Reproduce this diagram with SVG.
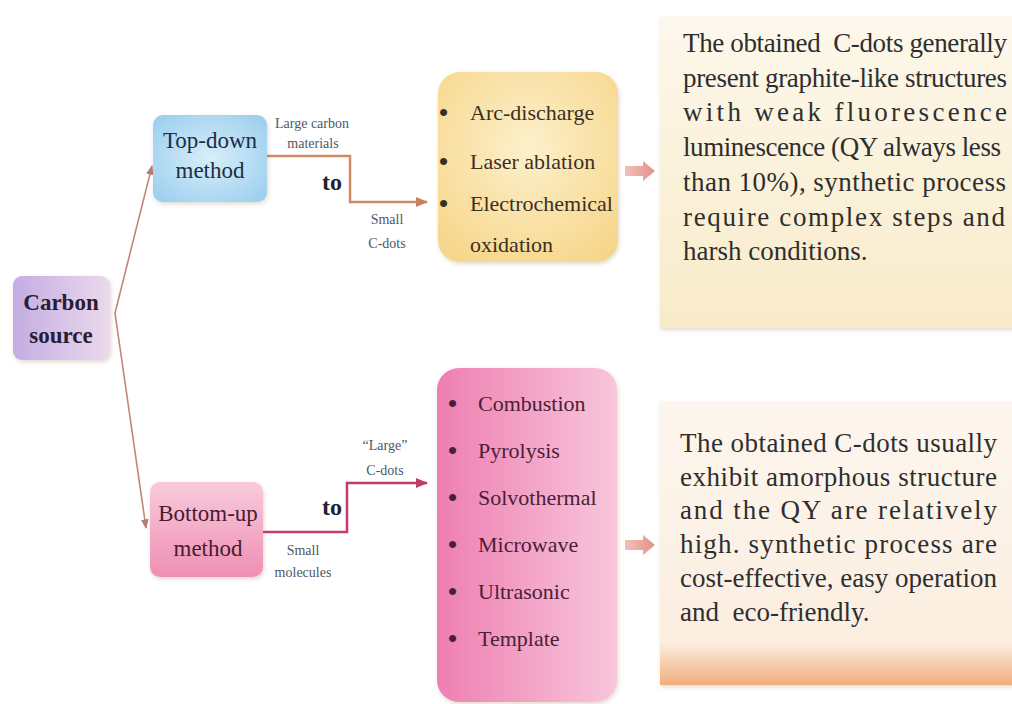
<svg xmlns="http://www.w3.org/2000/svg" width="1012" height="704" viewBox="0 0 1012 704">
<style>
.node{font-family:"Liberation Serif","Times New Roman",serif;text-anchor:middle;font-size:23px}
.lbl{font-family:"Liberation Serif","Times New Roman",serif;text-anchor:middle;font-size:14px;fill:#4a5866}
.to{font-family:"Liberation Serif","Times New Roman",serif;font-weight:bold;font-size:24px;fill:#1e2430}
.item{font-family:"Liberation Serif","Times New Roman",serif;font-size:22px}
.bul{font-family:"Liberation Serif","Times New Roman",serif;font-size:26px;font-weight:bold}
.desc{font-family:"Liberation Serif","Times New Roman",serif;font-size:27px;fill:#2e2e2e}
</style>
<defs>
<linearGradient id="gCarbon" x1="0" y1="0" x2="1" y2="0"><stop offset="0" stop-color="#c3ade3"/><stop offset="1" stop-color="#ecd9ec"/></linearGradient>
<radialGradient id="gTop" cx="0.5" cy="0.5" r="0.7"><stop offset="0" stop-color="#d8eefa"/><stop offset="1" stop-color="#98cdee"/></radialGradient>
<linearGradient id="gBot" x1="0" y1="0" x2="0" y2="1"><stop offset="0" stop-color="#f9cadb"/><stop offset="1" stop-color="#ef8fb4"/></linearGradient>
<radialGradient id="gYel" cx="0.5" cy="0.4" r="0.75"><stop offset="0" stop-color="#fdf0cc"/><stop offset="1" stop-color="#f6d486"/></radialGradient>
<linearGradient id="gPink" x1="0" y1="0" x2="1" y2="0"><stop offset="0" stop-color="#ee7fb1"/><stop offset="1" stop-color="#f8c6db"/></linearGradient>
<linearGradient id="gDesc1" x1="0" y1="0" x2="0" y2="1"><stop offset="0" stop-color="#fdf8ec"/><stop offset="1" stop-color="#f8ebc9"/></linearGradient>
<linearGradient id="gDesc2" x1="0" y1="0" x2="0" y2="1"><stop offset="0" stop-color="#fdf6ee"/><stop offset="0.85" stop-color="#fbeee0"/><stop offset="1" stop-color="#f2ad7c"/></linearGradient>
<linearGradient id="gBlk" x1="0" y1="0" x2="1" y2="0"><stop offset="0" stop-color="#f2c0b8"/><stop offset="1" stop-color="#e39088"/></linearGradient>
<filter id="sh" x="-10%" y="-10%" width="120%" height="120%"><feDropShadow dx="1" dy="2" stdDeviation="2" flood-color="#806040" flood-opacity="0.25"/></filter>
<marker id="aOr" viewBox="0 0 10 10" refX="9" refY="5" markerWidth="5" markerHeight="5" orient="auto"><path d="M0,1 L10,5 L0,9 z" fill="#c9825e"/></marker>
<marker id="aMg" viewBox="0 0 10 10" refX="9" refY="5" markerWidth="5" markerHeight="5" orient="auto"><path d="M0,1 L10,5 L0,9 z" fill="#c03a6c"/></marker>
<marker id="aSl" viewBox="0 0 10 10" refX="9" refY="5" markerWidth="6" markerHeight="6" orient="auto-start-reverse"><path d="M0,1 L10,5 L0,9 z" fill="#b87a70"/></marker>
</defs>
<rect width="1012" height="704" fill="#ffffff"/>

<g id="connectors">
<path d="M152,166 L115,313 L146,528" fill="none" stroke="#c08878" stroke-width="1.6" marker-start="url(#aSl)" marker-end="url(#aSl)"/>
<path d="M267,156 H350 V202 H427" fill="none" stroke="#d08a64" stroke-width="2.5" marker-end="url(#aOr)"/>
<path d="M263,532 H347 V483 H427" fill="none" stroke="#c43a6e" stroke-width="2.5" marker-end="url(#aMg)"/>
<polygon points="625,166 643,166 643,161 655,171 643,181 643,176 625,176" fill="url(#gBlk)"/>
<polygon points="625,540 643,540 643,535 655,545 643,555 643,550 625,550" fill="url(#gBlk)"/>
<text class="lbl" x="312" y="128">Large carbon</text>
<text class="lbl" x="313" y="148">materials</text>
<text class="to" x="322" y="190">to</text>
<text class="lbl" x="387" y="224" font-size="15">Small</text>
<text class="lbl" x="387" y="248" font-size="15">C-dots</text>
<text class="lbl" x="385" y="450" font-size="15">“Large”</text>
<text class="lbl" x="385" y="475" font-size="15">C-dots</text>
<text class="to" x="322" y="515">to</text>
<text class="lbl" x="303" y="555">Small</text>
<text class="lbl" x="303" y="577">molecules</text>
</g>

<g id="carbon-source">
<rect x="13" y="276" width="97" height="84" rx="9" fill="url(#gCarbon)" filter="url(#sh)"/>
<text class="node" x="61" y="310" font-weight="bold" fill="#2a1c34">Carbon</text>
<text class="node" x="61" y="343" font-weight="bold" fill="#2a1c34">source</text>
</g>

<g id="top-down">
<rect x="153" y="115" width="114" height="87" rx="10" fill="url(#gTop)" filter="url(#sh)"/>
<text class="node" x="210" y="148" fill="#1c2e44">Top-down</text>
<text class="node" x="210" y="178" fill="#1c2e44">method</text>
</g>

<g id="bottom-up">
<rect x="150" y="482" width="113" height="95" rx="10" fill="url(#gBot)" filter="url(#sh)"/>
<text class="node" x="208" y="521" fill="#4a1a30">Bottom-up</text>
<text class="node" x="208" y="556" fill="#4a1a30">method</text>
</g>

<g id="top-down-methods">
<rect x="438" y="72" width="180" height="190" rx="22" fill="url(#gYel)" filter="url(#sh)"/>
<g fill="#3a3020">
<text class="bul" x="439" y="121">•</text><text class="item" x="470" y="120">Arc-discharge</text>
<text class="bul" x="439" y="170">•</text><text class="item" x="470" y="169">Laser ablation</text>
<text class="bul" x="439" y="212">•</text><text class="item" x="470" y="211">Electrochemical</text>
<text class="item" x="470" y="252">oxidation</text>
</g>
</g>

<g id="bottom-up-methods">
<rect x="437" y="368" width="180" height="334" rx="22" fill="url(#gPink)" filter="url(#sh)"/>
<g fill="#4a2038">
<text class="bul" x="448" y="412">•</text><text class="item" x="478" y="411">Combustion</text>
<text class="bul" x="448" y="459">•</text><text class="item" x="478" y="458">Pyrolysis</text>
<text class="bul" x="448" y="506">•</text><text class="item" x="478" y="505">Solvothermal</text>
<text class="bul" x="448" y="553">•</text><text class="item" x="478" y="552">Microwave</text>
<text class="bul" x="448" y="600">•</text><text class="item" x="478" y="599">Ultrasonic</text>
<text class="bul" x="448" y="647">•</text><text class="item" x="478" y="646">Template</text>
</g>
</g>

<g id="top-down-result">
<rect x="660" y="17" width="360" height="311" fill="url(#gDesc1)" filter="url(#sh)"/>
<text class="desc" x="683" y="52" textLength="324" lengthAdjust="spacing" xml:space="preserve">The obtained  C-dots generally</text>
<text class="desc" x="683" y="87" textLength="324" lengthAdjust="spacing">present graphite-like structures</text>
<text class="desc" x="683" y="121" textLength="324" lengthAdjust="spacing">with weak fluorescence</text>
<text class="desc" x="683" y="156" textLength="318" lengthAdjust="spacing">luminescence (QY always less</text>
<text class="desc" x="683" y="191" textLength="323" lengthAdjust="spacing">than 10%), synthetic process</text>
<text class="desc" x="683" y="226" textLength="322" lengthAdjust="spacing">require complex steps and</text>
<text class="desc" x="683" y="260">harsh conditions.</text>
</g>

<g id="bottom-up-result">
<rect x="660" y="402" width="360" height="283" fill="url(#gDesc2)" filter="url(#sh)"/>
<text class="desc" x="680" y="452" textLength="317" lengthAdjust="spacing">The obtained C-dots usually</text>
<text class="desc" x="680" y="486" textLength="317" lengthAdjust="spacing">exhibit amorphous structure</text>
<text class="desc" x="680" y="519" textLength="317" lengthAdjust="spacing">and the QY are relatively</text>
<text class="desc" x="680" y="553" textLength="317" lengthAdjust="spacing">high. synthetic process are</text>
<text class="desc" x="680" y="587" textLength="317" lengthAdjust="spacing">cost-effective, easy operation</text>
<text class="desc" x="680" y="621" xml:space="preserve">and  eco-friendly.</text>
</g>
</svg>
